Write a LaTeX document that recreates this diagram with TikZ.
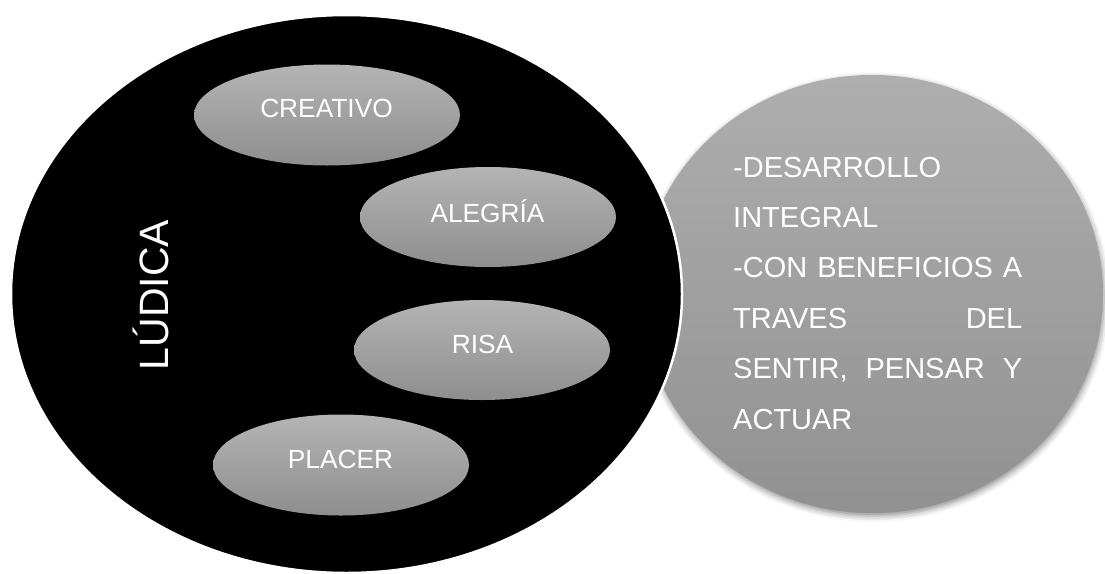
\documentclass[tikz,border=0pt]{standalone}
\usepackage{fontspec}
\setmainfont{Liberation Sans}
\usetikzlibrary{shapes.geometric,shadows.blur}
\definecolor{gtop}{HTML}{B4B4B4}
\definecolor{gbot}{HTML}{8E8E8E}
\definecolor{ctop}{HTML}{AEAEAE}
\definecolor{cbot}{HTML}{919191}
\begin{document}
\begin{tikzpicture}[x=1pt,y=-1pt,
  bubble/.style={ellipse, inner sep=0pt, top color=gtop, bottom color=gbot, draw=none},
  lbl/.style={text=white, font=\fontsize{26.3}{30}\selectfont, anchor=base, inner sep=0pt},
  rtxt/.style={text=white, font=\fontsize{29}{34}\selectfont, anchor=base west, inner sep=0pt}]
\useasboundingbox (0,0) rectangle (1105,573);
% right grey circle with shadow
\node[ellipse, minimum width=462pt, minimum height=438pt, inner sep=0pt, top color=ctop, bottom color=cbot,
      blur shadow={shadow xshift=1pt, shadow yshift=-3pt, shadow blur radius=6pt, shadow opacity=45}]
      (right) at (872,294) {};
% big black ellipse
\node[ellipse, minimum width=671pt, minimum height=558pt, fill=black, draw=white,
      line width=2.5pt, inner sep=0pt] (ludica) at (346.5,294) {};
% inner bubbles
\node[bubble, minimum width=266pt, minimum height=101pt] (creativo) at (327,115) {};
\node[bubble, minimum width=256pt, minimum height=100pt] (alegria) at (488,217) {};
\node[bubble, minimum width=256pt, minimum height=100pt] (risa) at (482,350) {};
\node[bubble, minimum width=256pt, minimum height=101pt] (placer) at (341,465) {};
% labels
\node[lbl] (tcreativo) at (326.5,117) {CREATIVO};
\node[lbl] (talegria) at (487.5,222) {ALEGRÍA};
\node[lbl] (trisa) at (482.5,353) {RISA};
\node[lbl] (tplacer) at (340.5,468) {PLACER};
\node[text=white, font=\fontsize{41}{49}\selectfont, rotate=90, anchor=base, inner sep=0pt]
      (tludica) at (168,295) {LÚDICA};
% right text
\node[rtxt] (l1) at (733,177) {-DESARROLLO};
\node[rtxt] (l2) at (733,227) {INTEGRAL};
\node[rtxt] (l3) at (733,277) {\makebox[289pt][s]{-CON BENEFICIOS A}};
\node[rtxt] (l4) at (733,328) {\makebox[289pt][s]{TRAVES DEL}};
\node[rtxt] (l5) at (733,378) {\makebox[289pt][s]{SENTIR, PENSAR Y}};
\node[rtxt] (l6) at (733,429) {ACTUAR};
\end{tikzpicture}
\end{document}
